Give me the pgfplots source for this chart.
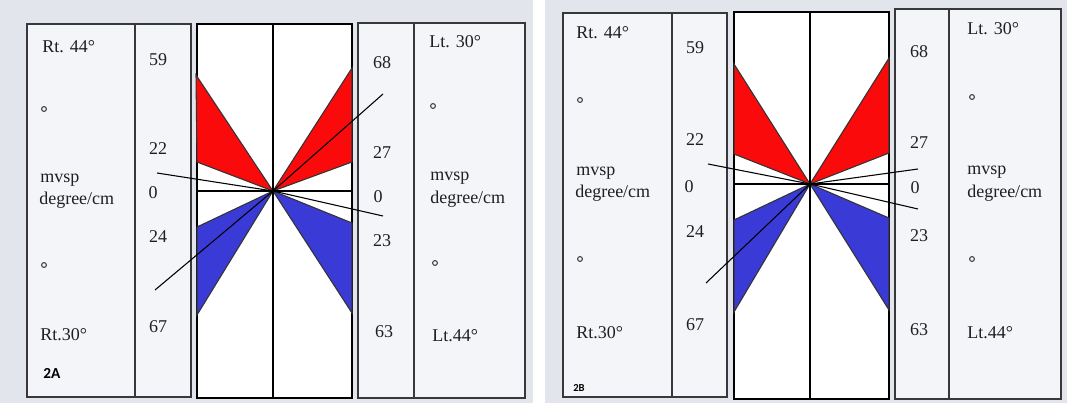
\documentclass[border=0pt]{standalone}
\usepackage{fontspec}
\setmainfont{Liberation Serif}
\newfontfamily\calfont{Carlito}
\usepackage{pgfplots}
\pgfplotsset{compat=1.18}

\definecolor{bg}{RGB}{226,229,235}
\definecolor{paper}{RGB}{244,245,248}
\definecolor{boxline}{RGB}{55,55,60}
\definecolor{wred}{RGB}{250,10,10}
\definecolor{wblue}{RGB}{58,58,215}

\tikzset{
  t/.style={inner sep=0pt, font=\fontsize{13.5}{15}\selectfont, text=black!88},
  tl/.style={t, anchor=west},
}

\begin{document}
\begin{tikzpicture}
\begin{axis}[
  width=800.25pt, height=302.25pt, scale only axis,
  xmin=0, xmax=1067, ymin=0, ymax=403, y dir=reverse,
  hide axis, clip=false,
]
% background
\addplot[fill=bg, draw=none] coordinates {(0,0) (1067,0) (1067,403) (0,403)} -- cycle;

% ---------- panel 2A ----------
% boxes
\addplot[fill=paper, draw=boxline, line width=1.1pt] coordinates {(27,24) (191,24) (191,397) (27,397)} -- cycle;
\addplot[draw=boxline, line width=1.1pt] coordinates {(135,24) (135,397)};
\addplot[fill=white, draw=black, line width=1.2pt] coordinates {(197,24) (352,24) (352,398) (197,398)} -- cycle;
\addplot[fill=paper, draw=boxline, line width=1.1pt] coordinates {(358,23) (525,23) (525,398) (358,398)} -- cycle;
\addplot[draw=boxline, line width=1.1pt] coordinates {(414,23) (414,398)};
% wedges
\addplot[fill=wred, draw=black!80, line width=0.8pt] coordinates {(273,191) (196,75) (197,162)} -- cycle;
\addplot[fill=wred, draw=black!80, line width=0.8pt] coordinates {(273,191) (352,68) (352,162)} -- cycle;
\addplot[fill=wblue, draw=black!80, line width=0.8pt] coordinates {(273,191) (197,227) (197,315)} -- cycle;
\addplot[fill=wblue, draw=black!80, line width=0.8pt] coordinates {(273,191) (352,223) (352,313)} -- cycle;
% axes of the centre box
\addplot[draw=black, line width=1.8pt] coordinates {(273,24) (273,398)};
\addplot[draw=black, line width=1.8pt] coordinates {(197,191) (352,191)};
% thin lines
\addplot[draw=black, line width=0.8pt] coordinates {(157,173) (273,191)};
\addplot[draw=black, line width=0.8pt] coordinates {(155,290) (273,191)};
\addplot[draw=black, line width=0.8pt] coordinates {(273,191) (383,94)};
\addplot[draw=black, line width=0.8pt] coordinates {(273,191) (383,216)};
% small circles
\addplot[only marks, mark=o, mark size=1.8pt, mark options={line width=0.8pt, draw=black!75}]
  coordinates {(44,109) (44,265) (433,106) (435,263)};
% texts
\node[tl] at (axis cs:42,47) {Rt. 44°};
\node[tl] at (axis cs:40,180) {mvsp};
\node[tl] at (axis cs:39,200) {degree/cm};
\node[tl] at (axis cs:40,335) {Rt.30°};
\node[anchor=west, inner sep=0pt, font=\calfont\bfseries\fontsize{11.5}{12}\selectfont] at (axis cs:43,373) {2A};
\node[t] at (axis cs:158,60) {59};
\node[t] at (axis cs:158,149) {22};
\node[t] at (axis cs:153,193) {0};
\node[t] at (axis cs:158,237) {24};
\node[t] at (axis cs:158,327) {67};
\node[t] at (axis cs:382,63) {68};
\node[t] at (axis cs:382,153) {27};
\node[t] at (axis cs:378,197) {0};
\node[t] at (axis cs:382,241) {23};
\node[t] at (axis cs:384,332) {63};
\node[tl] at (axis cs:429,42) {Lt. 30°};
\node[tl] at (axis cs:430,178) {mvsp};
\node[tl] at (axis cs:430,199) {degree/cm};
\node[tl] at (axis cs:432,336) {Lt.44°};

% ---------- panel 2B ----------
\addplot[fill=white, draw=none] coordinates {(533,0) (545,0) (545,403) (533,403)} -- cycle;
\addplot[fill=paper, draw=boxline, line width=1.1pt] coordinates {(563,13) (727,13) (727,397) (563,397)} -- cycle;
\addplot[draw=boxline, line width=1.1pt] coordinates {(672,13) (672,397)};
\addplot[fill=white, draw=black, line width=1.2pt] coordinates {(734,12) (889,12) (889,399) (734,399)} -- cycle;
\addplot[fill=paper, draw=boxline, line width=1.1pt] coordinates {(895,9) (1061,9) (1061,399) (895,399)} -- cycle;
\addplot[draw=boxline, line width=1.1pt] coordinates {(949,9) (949,399)};
% wedges
\addplot[fill=wred, draw=black!80, line width=0.8pt] coordinates {(810,184) (734,64) (734,154)} -- cycle;
\addplot[fill=wred, draw=black!80, line width=0.8pt] coordinates {(810,184) (889,58) (889,153)} -- cycle;
\addplot[fill=wblue, draw=black!80, line width=0.8pt] coordinates {(810,184) (734,220) (734,312)} -- cycle;
\addplot[fill=wblue, draw=black!80, line width=0.8pt] coordinates {(810,184) (889,218) (889,310)} -- cycle;
\addplot[draw=black, line width=1.8pt] coordinates {(810,12) (810,399)};
\addplot[draw=black, line width=1.8pt] coordinates {(734,184) (889,184)};
\addplot[draw=black, line width=0.8pt] coordinates {(708,164) (810,184)};
\addplot[draw=black, line width=0.8pt] coordinates {(706,283) (810,184)};
\addplot[draw=black, line width=0.8pt] coordinates {(810,184) (918,169)};
\addplot[draw=black, line width=0.8pt] coordinates {(810,184) (918,209)};
\addplot[only marks, mark=o, mark size=1.8pt, mark options={line width=0.8pt, draw=black!75}]
  coordinates {(580,100) (580,259) (972,97) (972,259)};
\node[tl] at (axis cs:576,33) {Rt. 44°};
\node[tl] at (axis cs:576,173) {mvsp};
\node[tl] at (axis cs:575,193) {degree/cm};
\node[tl] at (axis cs:576,333) {Rt.30°};
\node[anchor=west, inner sep=0pt, font=\calfont\bfseries\fontsize{8}{9}\selectfont] at (axis cs:573,388) {2B};
\node[t] at (axis cs:695,48) {59};
\node[t] at (axis cs:695,140) {22};
\node[t] at (axis cs:689,187) {0};
\node[t] at (axis cs:695,232) {24};
\node[t] at (axis cs:695,325) {67};
\node[t] at (axis cs:919,52) {68};
\node[t] at (axis cs:919,143) {27};
\node[t] at (axis cs:915,188) {0};
\node[t] at (axis cs:919,236) {23};
\node[t] at (axis cs:919,330) {63};
\node[tl] at (axis cs:967,29) {Lt. 30°};
\node[tl] at (axis cs:967,172) {mvsp};
\node[tl] at (axis cs:967,193) {degree/cm};
\node[tl] at (axis cs:967,333) {Lt.44°};
\end{axis}
\end{tikzpicture}
\end{document}
